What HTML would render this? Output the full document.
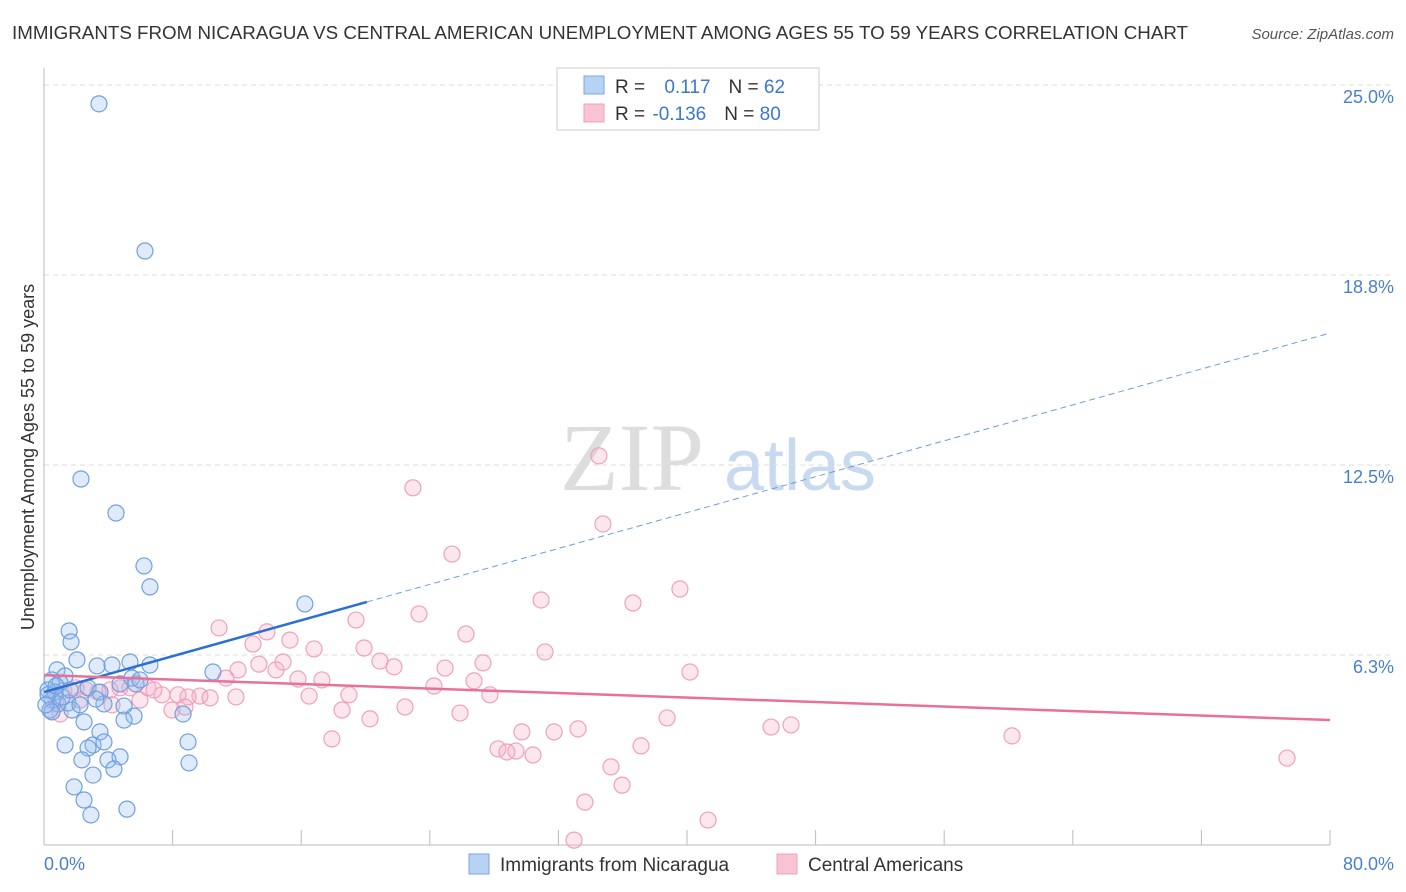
<!DOCTYPE html>
<html><head><meta charset="utf-8"><style>
body{margin:0;background:#fff;font-family:"Liberation Sans",sans-serif;}
svg{display:block}
</style></head><body>
<svg id="chart" width="1406" height="892" xmlns="http://www.w3.org/2000/svg">
<text x="12" y="39" font-size="18" fill="#333" textLength="1176" lengthAdjust="spacingAndGlyphs">IMMIGRANTS FROM NICARAGUA VS CENTRAL AMERICAN UNEMPLOYMENT AMONG AGES 55 TO 59 YEARS CORRELATION CHART</text>
<text x="1394" y="39" font-size="15" fill="#555" font-style="italic" text-anchor="end">Source: ZipAtlas.com</text>
<g>
<text x="632" y="490" font-size="96" fill="#ddd" font-family="Liberation Serif,serif" text-anchor="middle">ZIP</text>
<text x="800" y="490" font-size="72" fill="#c8daf0" text-anchor="middle">atlas</text>
</g>
<g id="grid"></g>
<g id="axes"></g>
<g id="pts"></g>
<g id="trend"></g>
<text transform="translate(34,457) rotate(-90)" font-size="18" fill="#333" text-anchor="middle">Unemployment Among Ages 55 to 59 years</text>
<text x="44" y="870" font-size="18" fill="#4a7fd0">0.0%</text>
<text x="1394" y="870" font-size="18" fill="#4a7fd0" text-anchor="end">80.0%</text>
<g>
<rect x="557" y="68" width="262" height="62" fill="#fff" stroke="#ccc"/>
<rect x="584" y="76" width="20" height="18" fill="#b8d2f4" stroke="#7aa6e0"/>
<rect x="584" y="104" width="20" height="18" fill="#f8c4d4" stroke="#f0a0bc"/>
<text x="615" y="93" font-size="19" fill="#333">R = <tspan fill="#3a78d0" dx="14">0.117</tspan><tspan dx="18" fill="#333">N = </tspan><tspan fill="#3a78d0">62</tspan></text>
<text x="615" y="120" font-size="19" fill="#333">R = <tspan fill="#3a78d0" dx="2">-0.136</tspan><tspan dx="18" fill="#333">N = </tspan><tspan fill="#3a78d0">80</tspan></text>
</g>
<g>
<rect x="469" y="854" width="20" height="20" fill="#b8d2f4" stroke="#7aa6e0"/>
<text x="500" y="871" font-size="19" fill="#333">Immigrants from Nicaragua</text>
<rect x="777" y="854" width="20" height="20" fill="#f8c4d4" stroke="#f0a0bc"/>
<text x="808" y="871" font-size="19" fill="#333">Central Americans</text>
</g>
</svg>
<script>
const yTicks=[25,18.75,12.5,6.25];
const yTickLabels=["25.0%","18.8%","12.5%","6.3%"];
const xTicks=[0,8,16,24,32,40,48,56,64,72,80];
const blueX=[3.42,6.28,2.30,4.48,6.22,6.59,16.23,1.56,1.68,2.05,0.81,3.30,4.23,5.35,6.59,10.51,1.31,0.50,1.00,0.25,0.68,0.50,0.87,1.49,1.74,0.37,2.74,3.48,3.73,4.73,5.47,5.72,4.98,5.60,4.98,2.49,8.65,3.48,3.05,2.74,1.31,3.73,8.96,4.73,3.98,2.36,4.35,3.05,1.87,2.49,5.16,2.92,9.02,0.25,1.12,1.62,0.50,0.75,0.12,2.24,3.23,5.97];
const blueY=[24.38,19.54,12.04,10.92,9.18,8.49,7.93,7.04,6.68,6.09,5.76,5.89,5.92,6.02,5.92,5.69,5.56,5.43,5.33,5.10,5.03,4.77,4.64,4.67,4.44,4.44,5.17,5.03,4.64,5.30,5.49,5.30,4.57,4.24,4.11,4.05,4.31,3.72,3.29,3.19,3.29,3.39,3.39,2.90,2.80,2.80,2.50,2.30,1.91,1.48,1.18,0.99,2.70,4.94,4.87,5.10,4.38,5.23,4.61,4.61,4.80,5.43];
const pinkX=[34.52,22.95,34.77,25.38,23.33,30.92,36.64,39.56,10.89,13.87,15.30,19.41,26.25,16.80,19.91,31.17,13.00,12.07,13.37,14.43,14.87,20.90,21.77,24.95,27.31,26.75,24.26,27.74,15.80,17.29,18.97,16.49,11.94,8.34,9.70,10.33,8.96,7.34,6.47,5.35,4.73,4.11,3.36,2.61,1.99,1.24,0.75,0.50,1.00,7.96,18.54,20.28,22.46,25.88,17.91,29.73,31.73,33.22,28.24,28.80,29.36,30.42,37.14,38.76,40.19,45.23,46.47,60.22,77.33,35.27,35.96,33.65,41.31,32.97,11.32,8.77,6.84,5.97,4.23,2.24];
const pinkY=[12.80,11.75,10.56,9.57,7.60,8.06,7.96,8.42,7.14,7.01,6.74,7.40,6.94,6.45,6.48,6.35,6.61,5.76,5.95,5.76,6.02,6.05,5.86,5.82,5.99,5.40,5.23,4.94,5.46,5.43,4.94,4.90,4.87,4.94,4.90,4.84,4.87,4.94,5.17,5.17,5.17,5.10,5.03,5.10,5.17,5.07,4.77,4.38,4.31,4.44,4.44,4.15,4.54,4.34,3.49,3.72,3.72,3.82,3.16,3.06,3.09,2.96,3.26,4.18,5.69,3.88,3.95,3.59,2.86,2.57,1.97,1.41,0.82,0.16,5.49,4.54,5.10,4.77,4.61,4.77];
const blueTrend=[5.03,16.84]; const blueSolidEnd=20.09;
const pinkTrend=[5.59,4.11];
const NS="http://www.w3.org/2000/svg";
const sx=v=>44+v*16.075, sy=v=>845-v*30.4;
function mk(tag,attrs,parent){const e=document.createElementNS(NS,tag);for(const k in attrs)e.setAttribute(k,attrs[k]);document.getElementById(parent).appendChild(e);return e;}
yTicks.forEach((t,i)=>{
 const l=mk('line',{x1:44,x2:1394,y1:sy(t),y2:sy(t),stroke:'#ddd','stroke-dasharray':'5,4'},'grid');
 
 
 const tx=mk('text',{x:1394,y:sy(t)+18,'font-size':18,fill:'#4a7fd0','text-anchor':'end'},'grid');
 tx.textContent=yTickLabels[i];
 
 
});
const ax=mk('line',{x1:44,x2:1330,y1:845,y2:845,stroke:'#bbb'},'axes');


const ay=mk('line',{x1:44,x2:44,y1:68,y2:845,stroke:'#bbb'},'axes');


xTicks.forEach(t=>{
 const l=mk('line',{x1:sx(t),x2:sx(t),y1:830,y2:845,stroke:'#bbb'},'axes');
 
 
});
function pts(X,Y,fill,stroke,name){X.forEach((x,i)=>{
 const c=mk('circle',{cx:sx(x),cy:sy(Y[i]),r:8,fill:fill,stroke:stroke,'stroke-width':1.2},'pts');
 
 
});}
pts(pinkX,pinkY,'rgba(245,175,200,0.3)','#f0a0bc','central-american-point');
pts(blueX,blueY,'rgba(150,190,240,0.3)','#6fa0e0','nicaragua-point');
const slope=(blueTrend[1]-blueTrend[0])/80;
const b1=mk('line',{x1:sx(0),y1:sy(blueTrend[0]),x2:sx(blueSolidEnd),y2:sy(blueTrend[0]+slope*blueSolidEnd),stroke:'#2a6fd6','stroke-width':2.5},'trend');


const b2=mk('line',{x1:sx(blueSolidEnd),y1:sy(blueTrend[0]+slope*blueSolidEnd),x2:sx(80),y2:sy(blueTrend[1]),stroke:'#6a9ee0','stroke-width':1,'stroke-dasharray':'6,4'},'trend');


const p1=mk('line',{x1:sx(0),y1:sy(pinkTrend[0]),x2:sx(80),y2:sy(pinkTrend[1]),stroke:'#e8709a','stroke-width':2.5},'trend');


</script>
</body></html>
